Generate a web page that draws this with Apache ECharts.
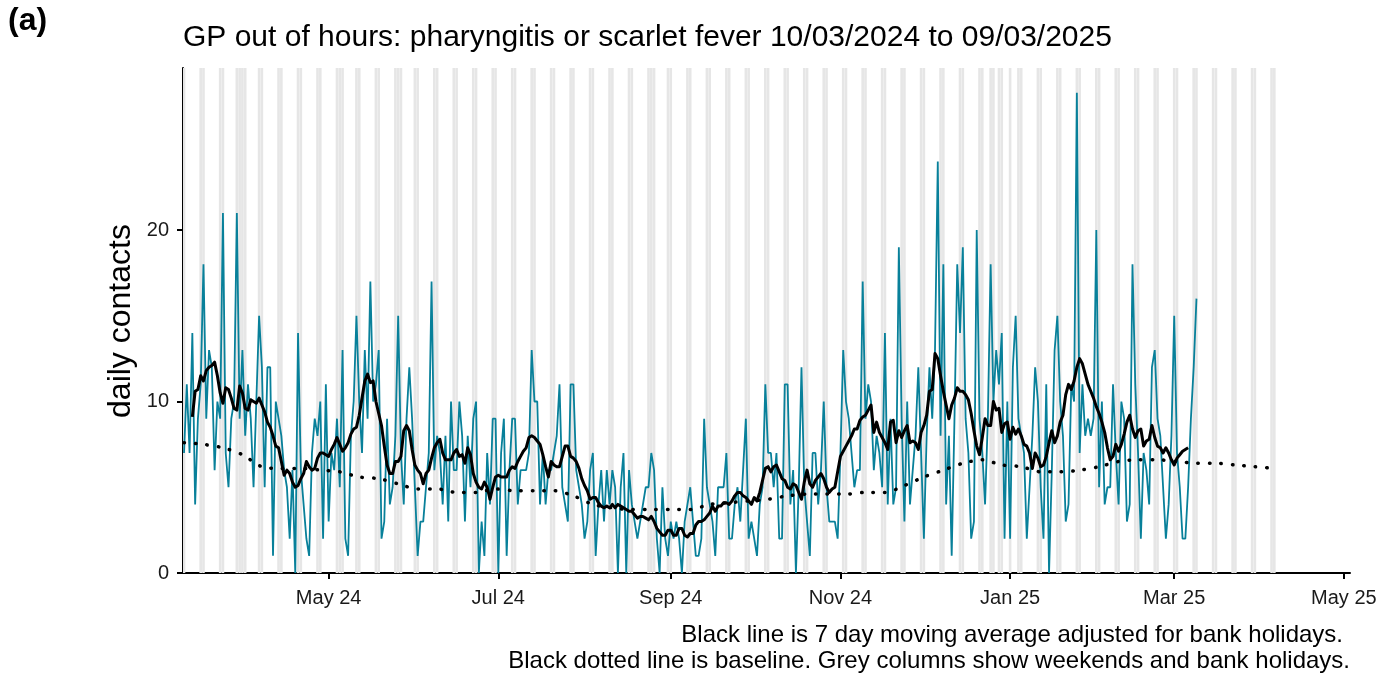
<!DOCTYPE html>
<html><head><meta charset="utf-8">
<script src="https://cdn.jsdelivr.net/npm/echarts@6/dist/echarts.min.js"></script>
<style>html,body{margin:0;padding:0;background:#fff}#chart{width:1387px;height:675px}</style>
</head><body><div id="chart"></div>
<script>
// ---------- data ----------
const startDate = '2024-03-10';
const dailyContacts = [
7,11,7,14,4,9,11,18,9,13,12,6,10,9,21,7,5,9,10,21,9,13,8,11,9,5,10,15,12,5,12,12,1,10,9,
8,6,5,2,6,0,14,6,4,2,1,7,9,8,10,2,11,3,7,6,9,5,13,2,1,8,10,15,10,7,13,9,17,10,11,13,2,3,
9,4,5,8,15,7,4,9,12,9,5,1,3,3,5,7,17,6,8,7,4,8,3,10,6,6,10,8,3,8,5,9,10,0,3,1,7,
4,9,9,0,7,9,1,6,9,9,4,6,6,6,7,13,10,10,4,7,4,6,6,7,8,11,5,4,3,11,11,6,5,4,2,3,6,
7,1,4,6,3,6,4,6,5,0,5,7,0,6,4,3,2,3,4,5,5,7,6,2,0,5,2,1,3,2,3,2,0,3,4,5,3,1,
1,2,9,5,4,3,1,5,5,5,7,2,2,4,5,3,6,9,2,3,2,1,4,5,11,7,7,5,7,2,2,11,11,4,6,0,5,
12,5,3,1,7,7,4,6,10,5,3,3,3,2,7,13,10,9,7,5,6,6,17,9,11,10,6,8,7,5,14,4,9,4,5,19,9,
3,10,4,6,8,12,7,2,8,12,9,13,24,8,18,4,8,1,9,18,14,19,9,7,2,3,20,9,7,4,9,18,10,13,11,14,2,
10,2,12,15,9,8,7,2,5,8,12,10,5,2,11,0,6,13,15,10,8,3,4,11,10,28,7,11,8,9,8,9,20,5,10,4,5,5,
11,7,4,10,9,3,4,18,11,7,2,7,6,4,12,13,9,8,5,2,4,8,15,7,5,2,2,5,9,12,16
];
const movingAverageStart = '2024-03-13';
const movingAverage = [
9.1,10.6,10.7,11.5,11.2,11.8,12.0,12.1,12.3,11.5,10.5,9.9,10.8,10.7,10.2,9.6,9.5,10.9,10.5,9.6,9.5,10.1,10.0,9.9,10.2,9.8,9.4,8.8,8.5,8.0,7.4,7.3,
6.5,5.7,6.0,5.8,5.3,5.0,5.1,5.5,5.8,6.5,6.2,6.0,6.1,6.7,7.0,7.0,6.9,6.8,7.2,7.5,7.9,7.5,7.1,7.3,7.6,8.1,8.4,8.5,9.2,10.2,11.2,11.6,11.1,11.2,10.0,9.3,8.6,7.4,
6.3,5.8,5.8,6.5,6.5,6.8,8.3,8.6,8.3,7.2,6.3,6.0,5.8,5.2,5.8,6.0,6.7,7.3,7.6,7.8,7.0,6.6,6.6,6.6,7.0,7.2,6.8,6.9,6.4,7.3,6.9,5.8,5.3,5.0,4.9,5.3,5.0,
4.3,5.0,5.6,5.7,5.6,5.6,5.6,6.0,6.2,6.1,6.5,6.8,7.1,7.3,7.9,8.0,7.9,7.7,7.5,6.9,6.2,5.6,6.5,6.3,6.2,6.2,6.8,7.4,7.4,6.8,6.7,6.5,6.1,5.5,5.1,4.8,4.3,
4.4,4.4,4.1,3.9,3.8,3.9,3.8,4.0,3.8,4.0,3.9,3.8,3.7,3.6,3.6,3.4,3.2,3.3,3.3,3.2,3.1,3.3,3.0,2.6,2.4,2.2,2.2,2.5,2.5,2.2,2.2,2.6,2.6,2.2,2.1,2.3,2.3,2.8,
3.0,3.0,3.1,3.3,3.5,3.9,3.6,3.9,3.9,4.1,4.1,4.0,4.2,4.5,4.7,4.7,4.5,4.4,4.2,4.0,4.4,4.2,4.7,5.4,6.1,6.2,5.9,6.2,6.3,5.9,5.5,5.4,5.0,4.9,5.2,5.1,4.7,
4.3,5.3,6.0,5.2,5.0,5.4,5.6,5.8,5.5,5.0,4.7,4.9,5.0,5.9,6.8,7.1,7.4,7.7,8.0,8.4,8.4,8.9,9.1,9.2,9.5,9.8,8.2,8.8,8.2,7.9,7.6,7.2,8.8,8.9,7.6,8.3,7.9,
8.3,8.6,7.6,7.7,7.6,7.2,8.2,8.6,9.2,10.6,10.7,12.8,12.5,11.5,10.6,9.8,9.0,9.8,10.2,10.8,10.6,10.6,10.4,10.1,9.3,8.3,7.4,6.9,7.9,9.0,8.6,8.6,10.0,9.5,9.6,8.2,8.7,
8.8,7.8,8.5,8.1,8.4,8.0,7.5,7.4,7.0,6.1,7.0,6.7,6.2,6.3,6.8,7.6,8.3,7.6,8.0,8.8,9.2,10.4,11.0,10.7,11.2,12.0,12.5,12.2,11.6,11.0,10.6,10.2,9.7,9.3,8.8,8.2,7.3,6.6,
6.8,7.5,7.1,7.5,8.1,8.8,9.2,8.4,7.9,8.3,8.4,7.4,7.7,7.8,8.6,7.9,7.4,7.3,7.0,7.3,7.0,6.6,6.3,6.7,6.9,7.1,7.2,7.3
];
const baselineStart = '2024-03-10';   // weekly values
const baselineWeekly = [
7.6,7.5,7.3,6.9,6.2,6.1,6.1,6.0,5.9,5.6,5.5,5.2,4.9,4.9,4.7,4.7,4.9,4.8,4.8,4.8,
4.5,4.0,3.8,3.7,3.7,3.7,3.7,4.0,4.1,4.2,4.3,4.5,4.6,4.6,4.6,4.7,4.7,5.1,5.6,6.0,
6.4,6.6,6.3,6.2,5.9,5.9,6.0,6.2,6.5,6.6,6.6,6.5,6.4,6.4,6.3,6.2,6.1
];
const bankHolidays = ['2024-03-29','2024-04-01','2024-05-06','2024-05-27','2024-08-26','2024-12-25','2024-12-26','2025-01-01'];
const greyColumnsEnd = '2025-04-06';
const xTickDates = ['2024-05-01','2024-07-01','2024-09-01','2024-11-01','2025-01-01','2025-03-01','2025-05-01'];
const yTicks = [0, 10, 20];
const monthNames = ['Jan','Feb','Mar','Apr','May','Jun','Jul','Aug','Sep','Oct','Nov','Dec'];
const titleText = 'GP out of hours: pharyngitis or scarlet fever 10/03/2024 to 09/03/2025';
const yAxisTitle = 'daily contacts';
const captionLines = ['Black line is 7 day moving average adjusted for bank holidays.',
                      'Black dotted line is baseline. Grey columns show weekends and bank holidays.'];

// ---------- build ----------
const DAY = 86400000;
function ts(s){ const p = s.split('-').map(Number); return Date.UTC(p[0], p[1]-1, p[2]); }
const t0 = ts(startDate);
const contactsData = dailyContacts.map((v,i)=>[t0 + i*DAY, v]);
const maT0 = ts(movingAverageStart);
const maData = movingAverage.map((v,i)=>[maT0 + i*DAY, v]);
const bT0 = ts(baselineStart);
const baseData = baselineWeekly.map((v,i)=>[bT0 + i*7*DAY, v]);
const bhSet = new Set(bankHolidays.map(ts));
const greyDays = [];
for (let t = t0; t <= ts(greyColumnsEnd); t += DAY) {
  const wd = new Date(t).getUTCDay();
  if (wd === 0 || wd === 6 || bhSet.has(t)) greyDays.push([t, 0]);
}
const Y_MAX = 29.45;
const X_MIN = t0 - 0.36*DAY;
const X_MAX = t0 + 419.2*DAY;
const FONT = '"Liberation Sans", Arial, Helvetica, sans-serif';
const xTickValues = xTickDates.map(ts);

const chart = echarts.init(document.getElementById('chart'), null, {renderer:'canvas'});
chart.setOption({
  animation: false,
  backgroundColor: '#ffffff',
  grid: {left: 183, right: 37, top: 68, bottom: 102, containLabel: false},
  xAxis: {
    type: 'value', min: X_MIN, max: X_MAX, scale: true,
    axisLine: {show: true, onZero: false, lineStyle: {color: '#000', width: 2}},
    axisTick: {show: true, length: 6, lineStyle: {color: '#000', width: 2}, customValues: xTickValues},
    axisLabel: {
      show: true, color: '#1a1a1a', fontSize: 20, fontFamily: FONT, margin: 15, hideOverlap: false,
      showMinLabel: true, showMaxLabel: true,
      customValues: xTickValues,
      formatter: function(v){ const d = new Date(v); return monthNames[d.getUTCMonth()] + ' ' + String(d.getUTCFullYear()).slice(2); }
    },
    splitLine: {show: false}
  },
  yAxis: {
    type: 'value', min: 0, max: Y_MAX,
    axisLine: {show: true, lineStyle: {color: '#000', width: 2}},
    axisTick: {show: true, length: 6, lineStyle: {color: '#000', width: 2}, customValues: yTicks},
    axisLabel: {show: true, color: '#1a1a1a', fontSize: 20, fontFamily: FONT, margin: 14, customValues: yTicks},
    splitLine: {show: false}
  },
  graphic: [
    {type: 'text', x: 8, y: 21, style: {text: '(a)', font: 'bold 32px ' + FONT, fill: '#000', textAlign: 'left', textVerticalAlign: 'middle'}},
    {type: 'text', x: 183, y: 38, style: {text: titleText, font: '30px ' + FONT, fill: '#000', textAlign: 'left', textVerticalAlign: 'middle'}},
    {type: 'text', x: 121, y: 321, rotation: Math.PI/2, style: {text: yAxisTitle, font: '32px ' + FONT, fill: '#000', textAlign: 'center', textVerticalAlign: 'middle'}},
    {type: 'text', x: 1343, y: 635, style: {text: captionLines[0], font: '24px ' + FONT, fill: '#000', textAlign: 'right', textVerticalAlign: 'middle'}},
    {type: 'text', x: 1350, y: 661, style: {text: captionLines[1], font: '24px ' + FONT, fill: '#000', textAlign: 'right', textVerticalAlign: 'middle'}}
  ],
  series: [
    {
      name: 'grey', type: 'custom', data: greyDays, z: 1, silent: true,
      encode: {x: 0, y: 1},
      renderItem: function(params, api){
        const t = api.value(0);
        const a = api.coord([t - 0.47*DAY, Y_MAX]);
        const b = api.coord([t + 0.47*DAY, 0]);
        const cs = params.coordSys;
        const x1 = Math.max(a[0], cs.x), x2 = Math.min(b[0], cs.x + cs.width);
        if (x2 <= x1) return null;
        return {type: 'rect', shape: {x: x1, y: a[1], width: x2 - x1, height: b[1] - a[1]}, style: {fill: '#e6e6e6'}};
      }
    },
    {
      name: 'daily', type: 'line', data: contactsData, z: 2, showSymbol: false, symbol: 'none',
      lineStyle: {color: '#08809a', width: 1.8}, silent: true
    },
    {
      name: 'baseline', type: 'line', data: baseData, z: 3, showSymbol: false, symbol: 'none', smooth: 0.3,
      lineStyle: {color: '#000', width: 3.5, type: [0.5, 11], cap: 'round'}, silent: true
    },
    {
      name: 'ma', type: 'line', data: maData, z: 4, showSymbol: false, symbol: 'none',
      lineStyle: {color: '#000', width: 3, join: 'round'}, silent: true
    }
  ]
});
</script></body></html>
